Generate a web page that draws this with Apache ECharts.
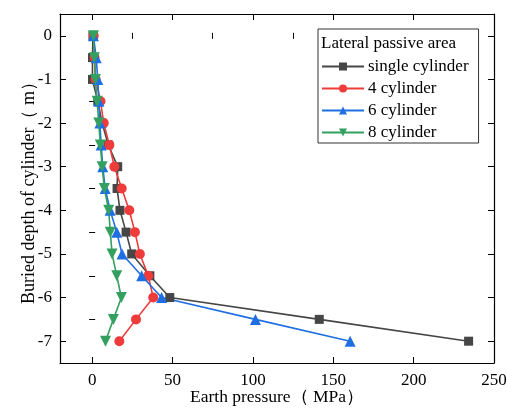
<!DOCTYPE html>
<html><head><meta charset="utf-8">
<script src="https://cdn.jsdelivr.net/npm/echarts@6/dist/echarts.min.js"></script>
<style>html,body{margin:0;padding:0;background:#fff}#c{width:507px;height:409px}</style>
</head><body><div id="c"></div>
<script>
const depths = [0, -0.5, -1, -1.5, -2, -2.5, -3, -3.5, -4, -4.5, -5, -5.5, -6, -6.5, -7];
const singleCyl = [0.5, 0.2, 0.2, 3.5, 6.2, 10.0, 15.9, 15.5, 17.3, 21.1, 24.6, 35.9, 48.3, 141.3, 234.2];
const cyl4 = [1.0, 1.5, 2.2, 5.2, 7.2, 10.7, 13.8, 18.4, 23.1, 26.6, 29.7, 34.9, 38.0, 27.3, 16.9];
const cyl6 = [0.8, 2.5, 3.5, 4.2, 4.8, 5.6, 6.6, 8.1, 11.2, 15.3, 18.6, 30.8, 43.2, 101.6, 160.5];
const cyl8 = [0.8, 1.4, 2.0, 3.1, 4.1, 5.1, 6.2, 7.6, 10.3, 11.3, 12.4, 15.3, 18.2, 13.2, 8.3];
const xTicks = [0, 50, 100, 150, 200, 250];
const xMinor = [25, 75, 125, 175, 225];
const yTicks = [0, -1, -2, -3, -4, -5, -6, -7];
const yMinor = [0.5, -0.5, -1.5, -2.5, -3.5, -4.5, -5.5, -6.5, -7.5];
const names = ['single cylinder', '4 cylinder', '6 cylinder', '8 cylinder'];
const colors = ['#464646', '#f03b3b', '#1f6fe3', '#33a060'];
const symbols = ['rect', 'circle', 'triangle', 'path://M0,0 L10,0 L5,9 Z'];
const seriesData = [singleCyl, cyl4, cyl6, cyl8];

const font = 'Liberation Serif';
const X = {min: -20, max: 250};
const Y = {min: -7.5, max: 0.5};
function xa(pos, ticks, len, opts) {
  return Object.assign({type: 'value', position: pos, min: X.min, max: X.max,
    axisLine: {show: false, lineStyle: {color: '#000', width: 1.2}}, splitLine: {show: false},
    axisTick: {show: true, inside: true, length: len, customValues: ticks, lineStyle: {color: '#000', width: 1}},
    axisLabel: {show: false}}, opts || {});
}
function ya(pos, ticks, len, opts) {
  return Object.assign({type: 'value', position: pos, min: Y.min, max: Y.max,
    axisLine: {show: false, lineStyle: {color: '#000', width: 1.2}}, splitLine: {show: false},
    axisTick: {show: true, inside: true, length: len, customValues: ticks, lineStyle: {color: '#000', width: 1}},
    axisLabel: {show: false}}, opts || {});
}
const chart = echarts.init(document.getElementById('c'));
chart.setOption({
  animation: false,
  grid: {left: 60, right: 13, top: 14, bottom: 46, outerBoundsMode: 'none', containLabel: false},
  xAxis: [
    xa('bottom', xTicks, 6, {axisLine: {show: true, onZero: false, lineStyle: {color: '#000', width: 1.2}},
      axisLabel: {show: true, customValues: xTicks, color: '#000', fontFamily: font, fontSize: 17, margin: 9},
      name: 'Earth pressure（ MPa）', nameLocation: 'middle', nameGap: 25, nameMoveOverlap: false,
      nameTextStyle: {color: '#000', fontFamily: font, fontSize: 17.5}}),
    xa('bottom', xMinor, 3),
    xa('top', xTicks, 6, {axisLine: {show: true, onZero: false, lineStyle: {color: '#000', width: 1.2}}}),
    xa('top', xMinor, 3)
  ],
  yAxis: [
    ya('left', yTicks, 6, {axisLine: {show: true, onZero: false, lineStyle: {color: '#000', width: 1.2}},
      axisLabel: {show: true, customValues: yTicks, color: '#000', fontFamily: font, fontSize: 17, margin: 8},
      name: 'Buried depth of cylinder（ m）', nameLocation: 'middle', nameGap: 22, nameMoveOverlap: false,
      nameTextStyle: {color: '#000', fontFamily: font, fontSize: 18}}),
    ya('left', yMinor, 3),
    ya('right', yTicks, 6, {axisLine: {show: true, onZero: false, lineStyle: {color: '#000', width: 1.2}}}),
    ya('right', yMinor, 3)
  ],
  legend: {
    orient: 'vertical', left: 318, top: 29, width: 158,
    padding: [29, 10, 2, 3], itemGap: 5, itemWidth: 42, itemHeight: 10,
    borderColor: '#333', borderWidth: 1, backgroundColor: '#fff',
    textStyle: {color: '#000', fontFamily: font, fontSize: 17, padding: [0, 0, 0, -1]},
    data: names
  },
  graphic: [{type: 'text', left: 321, top: 35, z: 100,
    style: {text: 'Lateral passive area', fill: '#000', font: '17px "Liberation Serif"'}}],
  series: names.map((n, i) => ({
    name: n, type: 'line', xAxisIndex: 0, yAxisIndex: 0,
    data: seriesData[i].map((v, k) => [v, depths[k]]),
    symbol: symbols[i], symbolSize: i === 1 ? 10 : (i === 0 ? 9 : 11),
    color: colors[i], lineStyle: {width: 1.6, color: colors[i]},
    itemStyle: {color: colors[i]}
  }))
});
</script></body></html>
